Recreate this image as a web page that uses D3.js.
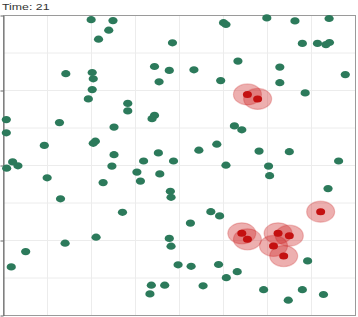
<!DOCTYPE html>
<html>
<head>
<meta charset="utf-8">
<script src="https://cdn.jsdelivr.net/npm/d3@7"></script>
<style>
  body { margin: 0; background: #fff; }
  svg { display: block; }
</style>
</head>
<body>
<svg width="358" height="317"></svg>
<script>
// Datos: posiciones de los individuos sanos e infectados (0-100 en ambos ejes)
const timeStep = 21;

const healthyX = [24.9, 31.1, 29.9, 27.0, 48.0, 17.7, 25.2, 25.5, 42.9, 47.1, 44.2, 25.2, 24.1, 35.3, 35.3,
  42.9, 42.2, 0.8, 15.9, 0.8, 31.4, 11.6, 26.1, 25.5, 31.4, 44.0, 2.6, 39.8, 48.3, 62.5,
  63.2, 74.8, 82.8, 92.5, 84.9, 89.2, 91.6, 92.6, 66.6, 54.1, 78.5, 61.7, 78.5, 97.1, 85.7,
  65.6, 67.7, 60.6, 55.5, 72.6, 81.2, 95.2, 0.9, 4.1, 12.4, 16.2, 30.8, 37.9, 38.9, 44.4,
  28.3, 47.4, 47.6, 33.8, 26.3, 17.5, 6.3, 2.2, 47.1, 47.6, 49.6, 42.0, 45.8, 41.6, 63.2,
  75.3, 75.6, 92.2, 58.9, 61.4, 53.1, 86.4, 53.3, 61.1, 63.3, 66.4, 56.7, 73.9, 84.9, 90.9, 80.9];

const healthyY = [98.6, 98.3, 95.1, 92.1, 90.9, 80.6, 81.0, 78.9, 83.0, 81.7, 77.9, 75.3, 72.2, 70.7, 68.2,
  66.7, 65.6, 65.3, 64.3, 60.9, 62.8, 56.7, 58.1, 57.4, 53.6, 54.2, 51.2, 51.5, 51.5, 97.6,
  97.0, 99.2, 98.2, 99.0, 90.7, 90.7, 90.3, 91.0, 84.8, 81.9, 82.8, 78.3, 77.6, 80.3, 74.2,
  63.2, 61.9, 57.1, 55.1, 54.8, 54.6, 51.5, 49.1, 49.9, 45.9, 38.9, 49.8, 47.8, 44.8, 47.2,
  44.3, 41.4, 39.4, 34.4, 26.1, 24.1, 21.3, 16.2, 25.7, 23.1, 16.9, 10.1, 10.1, 7.2, 50.1,
  49.8, 46.6, 42.3, 34.6, 33.2, 30.8, 18.2, 16.4, 17.0, 12.6, 14.6, 9.9, 8.6, 8.6, 7.0, 5.1];

const infectedX = [69.3, 72.2, 90.1, 67.7, 69.3, 78.0, 81.2, 76.7, 79.6];
const infectedY = [73.7, 72.2, 34.6, 27.4, 25.4, 27.4, 26.6, 23.2, 19.8];

const yTicks = [0, 25, 50, 75, 100];

const svg = d3.select("svg");

// Escalas
const x = d3.scaleLinear().domain([0, 100]).range([3.5, 355.5]);
const y = d3.scaleLinear().domain([0, 100]).range([315.5, 15.5]);

// Rejilla
const grid = svg.append("g");
grid.selectAll("line.vx")
    .data(d3.range(12.5, 100, 12.5))
    .enter().append("line")
    .attr("x1", d => x(d)).attr("x2", d => x(d))
    .attr("y1", y(0)).attr("y2", y(100))
    .attr("stroke", "#ececec");
grid.selectAll("line.hy")
    .data(d3.range(12.5, 100, 12.5))
    .enter().append("line")
    .attr("x1", x(0)).attr("x2", x(100))
    .attr("y1", d => y(d)).attr("y2", d => y(d))
    .attr("stroke", "#ececec");

// Borde
svg.append("rect")
    .attr("x", x(0)).attr("y", y(100))
    .attr("width", x(100) - x(0)).attr("height", y(0) - y(100))
    .attr("fill", "none")
    .attr("stroke", "#9a9a9a");

// Eje izquierdo (sin etiquetas visibles)
svg.append("g")
    .attr("transform", `translate(${x(0)},0)`)
    .call(d3.axisLeft(y).tickValues(yTicks).tickFormat(() => "").tickSize(3).tickSizeOuter(0))
    .call(g => g.select(".domain").attr("stroke", "#666"))
    .call(g => g.selectAll(".tick line").attr("stroke", "#666"));

// Individuos sanos
const healthy = d3.range(healthyX.length).map(i => ({ x: healthyX[i], y: healthyY[i] }));
svg.append("g")
    .selectAll("ellipse")
    .data(healthy)
    .enter().append("ellipse")
    .attr("cx", d => x(d.x))
    .attr("cy", d => y(d.y))
    .attr("rx", 4.6)
    .attr("ry", 3.6)
    .attr("fill", "#2c7a5b");

// Individuos infectados: halo y núcleo
const infected = d3.range(infectedX.length).map(i => ({ x: infectedX[i], y: infectedY[i] }));
svg.append("g")
    .selectAll("ellipse")
    .data(infected)
    .enter().append("ellipse")
    .attr("cx", d => x(d.x))
    .attr("cy", d => y(d.y))
    .attr("rx", 14)
    .attr("ry", 10.5)
    .attr("fill", "#cc2020")
    .attr("fill-opacity", 0.36)
    .attr("stroke", "#cc2020")
    .attr("stroke-opacity", 0.25)
    .attr("stroke-width", 1.2);

svg.append("g")
    .selectAll("ellipse")
    .data(infected)
    .enter().append("ellipse")
    .attr("cx", d => x(d.x))
    .attr("cy", d => y(d.y))
    .attr("rx", 4.5)
    .attr("ry", 3.5)
    .attr("fill", "#c41010");

// Título
svg.append("text")
    .attr("transform", "translate(2,10) scale(1.3,1)")
    .attr("font-family", "Liberation Sans, Arial, sans-serif")
    .attr("font-size", 9.5)
    .attr("fill", "#333")
    .text(`Time: ${timeStep}`);
</script>
</body>
</html>
